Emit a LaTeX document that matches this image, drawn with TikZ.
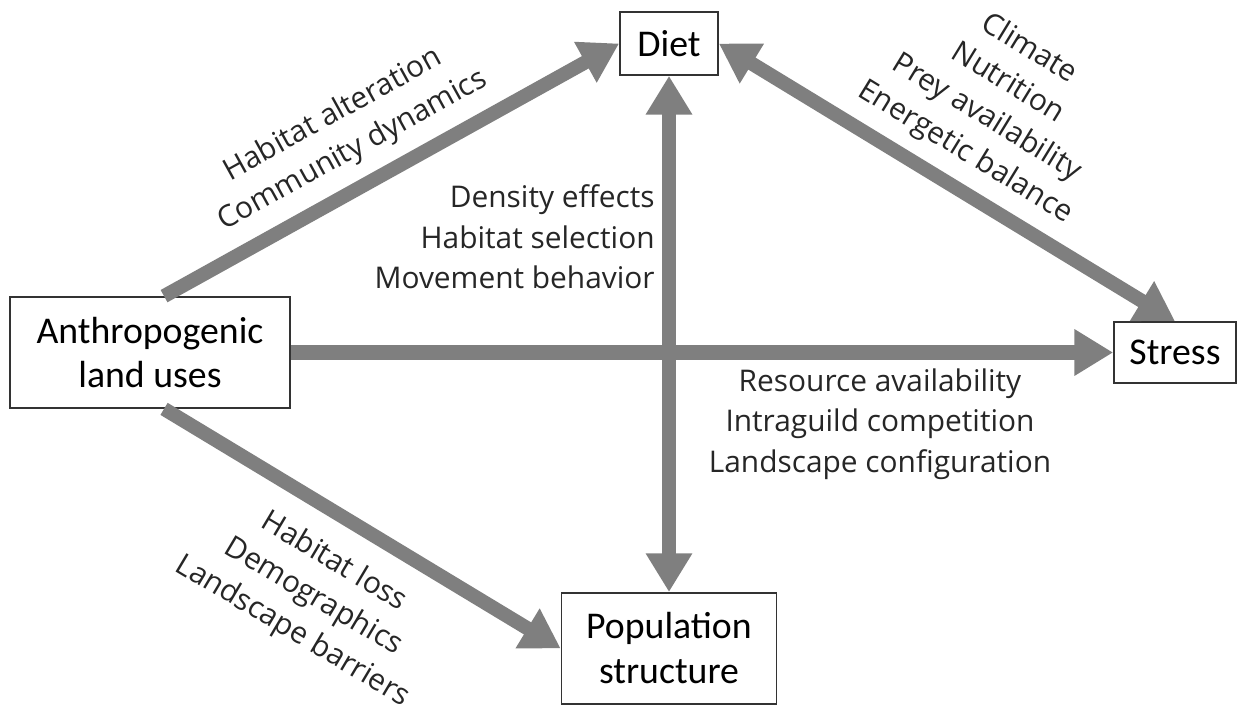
\documentclass[tikz,border=0pt]{standalone}
\usepackage{fontspec}
\setmainfont{Open Sans}
\newfontfamily\boxfont{Carlito}
\usetikzlibrary{arrows.meta}
\definecolor{arrowgray}{RGB}{127,127,127}
\tikzstyle{myBox}=[draw=black!80, line width=1pt, fill=white, align=center, inner sep=0pt, font=\boxfont\fontsize{21.5}{25.5}\selectfont]
\tikzstyle{myPath} = [-{Triangle[length=22pt,width=25pt]}, line width=8pt, draw=arrowgray]
\tikzstyle{myBiPath} = [{Triangle[length=22pt,width=25pt]}-{Triangle[length=22pt,width=25pt]}, line width=8pt, draw=arrowgray]
\tikzstyle{myLabel}=[align=center, inner sep=0pt, text=black!85, font=\fontsize{17}{23}\selectfont]

\begin{document}
\begin{tikzpicture}[x=0.02cm, y=-0.02cm]
   \useasboundingbox (0,0) rectangle (1238,704);

   \node[myBox, minimum width=5.6cm, minimum height=2.22cm] (lu) at (150,352.5) {Anthropogenic\\land uses};
   \node[myBox, minimum width=1.96cm, minimum height=1.26cm] (d) at (669,43.5) {Diet};
   \node[myBox, minimum width=2.44cm, minimum height=1.22cm] (s) at (1175,352.5) {Stress};
   \node[myBox, minimum width=4.3cm, minimum height=2.22cm, below of=d, node distance=12.1cm] (p) {Population\\structure};

   % Draw arrows between the blocks
   \draw[myPath] (lu.76) -- (d.west);
   \draw[myPath] (lu.-76) -- (p.west);
   \draw[myPath] (lu.east) -- (s.west);
   \draw[myBiPath] (d.south) -- (p.north);
   \draw[myBiPath] (d.east) -- (s.north);

   % Labels along the arrows
   \node[myLabel, rotate=28.9] (la) at (343,133) {Habitat alteration\\Community dynamics};
   \node[myLabel, rotate=-31.5] (lc) at (997,101) {Climate\\Nutrition\\Prey availability\\Energetic balance};
   \node[myLabel, align=right, anchor=east] (ld) at (655,237) {Density effects\\Habitat selection\\Movement behavior};
   \node[myLabel] (lr) at (880,424) {Resource availability\\Intraguild competition\\Landscape configuration};
   \node[myLabel, rotate=-30.8] (lh) at (313,597) {Habitat loss\\Demographics\\Landscape barriers};

\end{tikzpicture}
\end{document}
